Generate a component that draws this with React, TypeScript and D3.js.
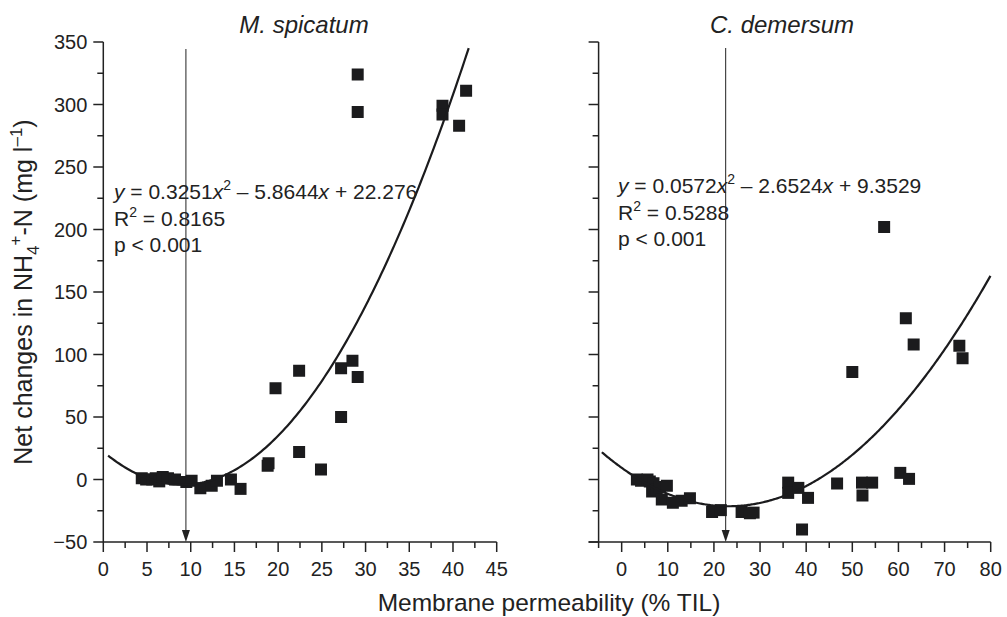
import * as React from "react";
import * as d3 from "d3";

// M. spicatum
const msX = [4.4, 4.9, 5.6, 6.0, 6.4, 6.8, 7.4, 8.2, 9.5, 10.1, 11.1, 12.4, 13.0, 14.6, 15.7, 18.8, 18.9, 19.7, 22.4, 22.4, 24.9, 27.2, 27.2, 28.5, 29.1, 29.1, 29.1, 38.8, 38.8, 40.7, 41.5];
const msY = [1, 0, 0, 1, -1.5, 2, 1, 0, -2, -1, -7, -5, -1, 0, -7.5, 11, 13, 73, 87, 22, 8, 89, 50, 95, 82, 324, 294, 299, 292, 283, 311];
// C. demersum
const cdX = [3.3, 4.2, 5.6, 6.1, 6.6, 6.9, 7.6, 8.7, 8.3, 9.8, 11.1, 13.0, 14.8, 19.6, 21.5, 26.0, 27.8, 28.6, 36.1, 36.1, 38.3, 39.1, 40.4, 46.7, 50.0, 52.1, 54.3, 52.2, 56.9, 60.4, 61.6, 62.3, 63.3, 73.2, 73.9];
const cdY = [0, -1, 0, -1.6, -9.6, -3, -8, -16, -6, -5, -18.6, -17, -15, -26, -24.5, -26, -27, -26.5, -2.5, -10.7, -6.7, -40, -14.7, -3.2, 86, -2.5, -2.5, -12.8, 202, 5.3, 129, 0.5, 108, 107, 97];

const titles = ["M. spicatum", "C. demersum"];
const msCoef = [0.3251, -5.8644, 22.276];
const cdCoef = [0.0572, -2.6524, 9.3529];
const msEq = ["0.3251", "5.8644", "22.276", "0.8165"];
const cdEq = ["0.0572", "2.6524", "9.3529", "0.5288"];
const msArrowX = 9.45;
const cdArrowX = 22.55;

const FONT = "'Liberation Sans', Arial, Helvetica, sans-serif";
const INK = "#222";
const MARK = "#1b1b1d";

const yScale = d3.scaleLinear().domain([-50, 350]).range([542, 42]);
const xL = d3.scaleLinear().domain([0, 45]).range([103.3, 496.7]);
const xR = d3.scaleLinear().domain([-5, 80]).range([598.6, 990.7]);

const quad = (c: number[]) => (x: number) => c[0] * x * x + c[1] * x + c[2];

function Panel({ x, xs, ys, coef, from, to, arrowX, arrowTop, eq, eqX, eqY, xTicks, isMajor, showYLabels, title, titleX }: any) {
  const f = quad(coef);
  const line = d3.line<number>().x(d => x(d)).y(d => yScale(f(d)));
  const pts = d3.range(from, to + 0.001, 0.25);
  const [x0, x1] = x.range();
  const ax = x(arrowX);
  const yTicks = d3.range(-50, 351, 25);
  const base = yScale(-50);
  return (
    <g>
      <text x={titleX} y={33} fontStyle="italic" fontSize={24} textAnchor="middle" fill={INK}>{title}</text>
      {/* y axis */}
      <line x1={x0} x2={x0} y1={yScale(350)} y2={base} stroke={INK} strokeWidth={1.5} />
      {yTicks.map(t => {
        const major = t % 50 === 0;
        return (
          <g key={"y" + t}>
            <line x1={x0 - (major ? 10 : 6)} x2={x0} y1={yScale(t)} y2={yScale(t)} stroke={INK} strokeWidth={1.5} />
            {showYLabels && major && (
              <text x={x0 - 16} y={yScale(t)} dy="0.36em" textAnchor="end" fontSize={20} fill={INK}>
                {t < 0 ? "\u2212" + Math.abs(t) : t}
              </text>
            )}
          </g>
        );
      })}
      {/* x axis */}
      <line x1={x0 - (showYLabels ? 0 : 10)} x2={x1} y1={base} y2={base} stroke={INK} strokeWidth={1.5} />
      {xTicks.map((t: number) => {
        const major = isMajor(t);
        return (
          <g key={"x" + t}>
            <line x1={x(t)} x2={x(t)} y1={base} y2={base + (major ? 10 : 6)} stroke={INK} strokeWidth={1.5} />
            {major && (
              <text x={x(t)} y={576} textAnchor="middle" fontSize={20} fill={INK}>{t}</text>
            )}
          </g>
        );
      })}
      {/* arrow */}
      <line x1={ax} x2={ax} y1={arrowTop} y2={base - 10} stroke={INK} strokeWidth={1} />
      <path d={`M${ax - 4},${base - 12}L${ax + 4},${base - 12}L${ax},${base}Z`} fill={INK} />
      {/* markers */}
      {xs.map((d: number, i: number) => (
        <rect key={i} x={x(d) - 6} y={yScale(ys[i]) - 6} width={12} height={12} fill={MARK} />
      ))}
      {/* fit */}
      <path d={line(pts) || ""} fill="none" stroke={MARK} strokeWidth={2.2} />
      {/* equation */}
      <g fontSize={21} fill={INK}>
        <text x={eqX} y={eqY}>
          <tspan fontStyle="italic">y</tspan> = {eq[0]}<tspan fontStyle="italic">x</tspan>
          <tspan dy={-9} fontSize={14}>2</tspan>
          <tspan dy={9}> {"\u2013"} {eq[1]}</tspan><tspan fontStyle="italic">x</tspan> + {eq[2]}
        </text>
        <text x={eqX} y={eqY + 27}>
          R<tspan dy={-9} fontSize={14}>2</tspan><tspan dy={9}> = {eq[3]}</tspan>
        </text>
        <text x={eqX} y={eqY + 53}>p {"<"} 0.001</text>
      </g>
    </g>
  );
}

export default function App() {
  return (
    <div style={{ position: "fixed", left: 0, top: 0 }}>
      <svg width={1007} height={617} fontFamily={FONT} style={{ display: "block", background: "#fff" }}>
        <Panel
          x={xL} xs={msX} ys={msY} coef={msCoef} from={0.55} to={41.9}
          arrowX={msArrowX} arrowTop={49} eq={msEq} eqX={114} eqY={199}
          xTicks={d3.range(0, 45.01, 2.5)} isMajor={(t: number) => t % 5 === 0}
          showYLabels title={titles[0]} titleX={304}
        />
        <Panel
          x={xR} xs={cdX} ys={cdY} coef={cdCoef} from={-4.3} to={80}
          arrowX={cdArrowX} arrowTop={48} eq={cdEq} eqX={618} eqY={193}
          xTicks={d3.range(-5, 80.01, 5)} isMajor={(t: number) => t % 10 === 0}
          showYLabels={false} title={titles[1]} titleX={782}
        />
        <text transform="translate(32,292) rotate(-90)" textAnchor="middle" fontSize={25} fill={INK}>
          Net changes in NH<tspan dy={7} fontSize={17}>4</tspan>
          <tspan dy={-18} fontSize={17}>+</tspan>
          <tspan dy={11}>-N (mg l</tspan>
          <tspan dy={-10} fontSize={17}>{"\u2013"}1</tspan>
          <tspan dy={10}>)</tspan>
        </text>
        <text x={549} y={611} textAnchor="middle" fontSize={24.5} fill={INK}>Membrane permeability (% TIL)</text>
      </svg>
    </div>
  );
}
